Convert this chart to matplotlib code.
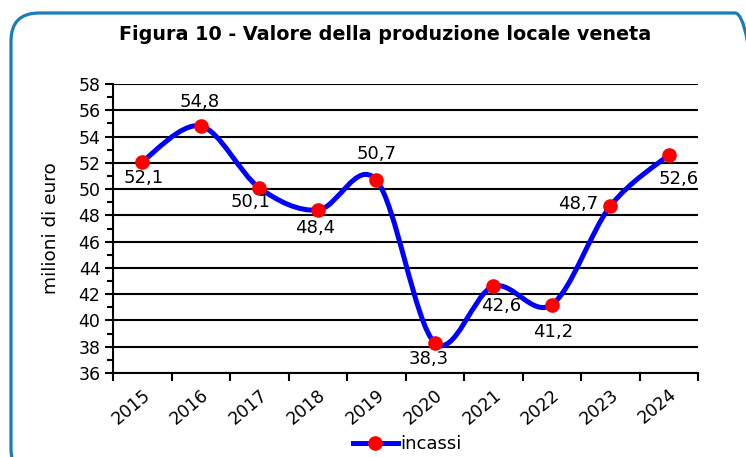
import numpy as np
import matplotlib.pyplot as plt
from matplotlib.path import Path
from matplotlib.patches import PathPatch, FancyBboxPatch
from matplotlib.lines import Line2D

# dati (milioni di euro)
anni = ['2015', '2016', '2017', '2018', '2019', '2020', '2021', '2022', '2023', '2024']
incassi = [52.1, 54.8, 50.1, 48.4, 50.7, 38.3, 42.6, 41.2, 48.7, 52.6]
etichette = ['52,1', '54,8', '50,1', '48,4', '50,7', '38,3', '42,6', '41,2', '48,7', '52,6']
# spostamento etichette in pixel (dx, dy)
off = [(1, -16), (-1, 24), (-9, -14), (-3, -18), (0, 26),
       (-6, -16), (8, -20), (1, -27), (-32, 2), (10, -24)]

plt.rcParams['font.family'] = ['DejaVu Sans']

fig = plt.figure(figsize=(7.46, 4.57), dpi=100)
ax = fig.add_axes([113/746, 84/457, 585/746, 289/457])

x = np.arange(len(incassi))
y = np.array(incassi)

# linea smussata tipo Excel (bezier cubiche)
verts = [(x[0], y[0])]
codes = [Path.MOVETO]
n = len(x)
for i in range(n - 1):
    p0 = np.array([x[max(i-1, 0)], y[max(i-1, 0)]])
    p1 = np.array([x[i], y[i]])
    p2 = np.array([x[i+1], y[i+1]])
    p3 = np.array([x[min(i+2, n-1)], y[min(i+2, n-1)]])
    c1 = p1 + (p2 - p0) / 6
    c2 = p2 - (p3 - p1) / 6
    verts += [tuple(c1), tuple(c2), tuple(p2)]
    codes += [Path.CURVE4] * 3
ax.add_patch(PathPatch(Path(verts, codes), facecolor='none', edgecolor='#0000ff',
                       lw=3.6, zorder=3, capstyle='round', joinstyle='round'))
ax.plot(x, y, ls='none', marker='o', ms=9.5, mfc='#ff0000', mec='#ff0000', zorder=4)

for xi, yi, t, (dx, dy) in zip(x, y, etichette, off):
    ax.annotate(t, (xi, yi), xytext=(dx, dy), textcoords='offset pixels',
                ha='center', va='center', fontsize=13, zorder=5)

ax.set_xlim(-0.5, n - 0.5)
ax.set_ylim(36, 58)
ax.set_yticks(np.arange(36, 59, 2))
ax.set_yticks(np.arange(37, 58, 2), minor=True)
ax.yaxis.grid(True, which='major', color='black', lw=1.5)
ax.set_axisbelow(True)
ax.set_xticks(np.arange(-0.5, n, 1))
ax.set_xticklabels([])
ax.set_xticks(x, minor=True)
ax.set_xticklabels(anni, minor=True, rotation=40, ha='right', rotation_mode='anchor')
ax.tick_params(axis='x', which='minor', length=0, pad=9, labelsize=12.5)
ax.tick_params(axis='x', which='major', length=6, width=1.5, direction='out')
ax.tick_params(axis='y', which='major', length=6, width=1.5, labelsize=12.5, pad=3)
ax.tick_params(axis='y', which='minor', length=4, width=1.5)
for s in ['top', 'right']:
    ax.spines[s].set_visible(False)
for s in ['left', 'bottom']:
    ax.spines[s].set_linewidth(1.5)
ax.set_ylabel('milioni di euro', fontsize=13.3, labelpad=13)

fig.text(385/746, 1 - 34/457, 'Figura 10 - Valore della produzione locale veneta',
         ha='center', va='center', fontsize=13.8, fontweight='bold')

h = Line2D([], [], color='#0000ff', lw=3.6, marker='o', ms=9.5,
           mfc='#ff0000', mec='#ff0000')
fig.legend([h], ['incassi'], loc='center', bbox_to_anchor=(407/746, 13/457),
           frameon=False, fontsize=13, handlelength=2.5, handletextpad=0.1)

# cornice arrotondata
fig.patches.append(FancyBboxPatch((0.11, -0.2), 7.52, 4.64,
                                  boxstyle='round,pad=0,rounding_size=0.28',
                                  transform=fig.dpi_scale_trans, facecolor='none',
                                  edgecolor='#1a7db5', lw=2.3))

fig.savefig('out.png', dpi=100)
